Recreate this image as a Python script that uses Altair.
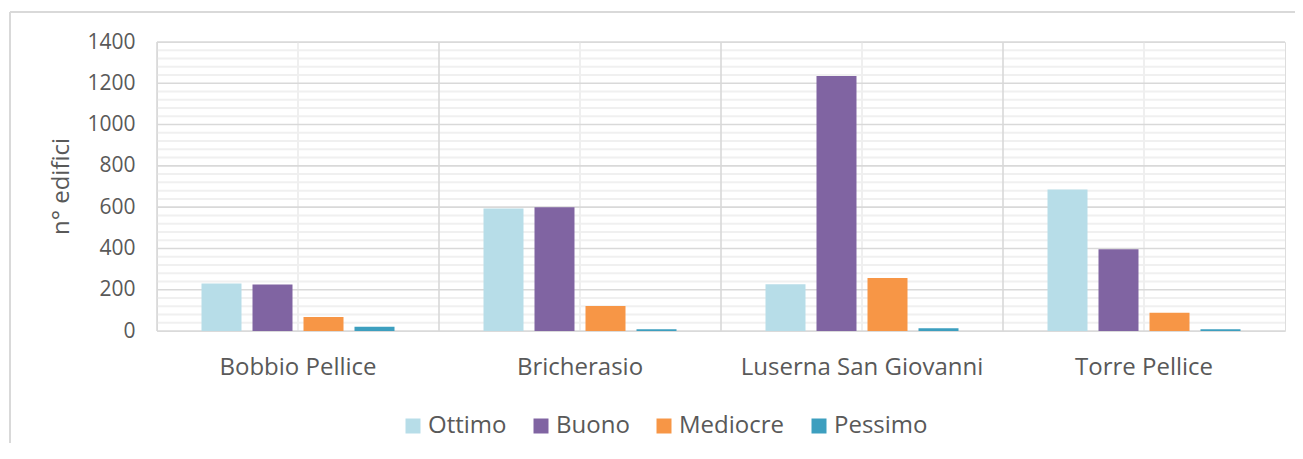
import altair as alt
import pandas as pd

cities = ["Bobbio Pellice", "Bricherasio", "Luserna San Giovanni", "Torre Pellice"]
conditions = ["Ottimo", "Buono", "Mediocre", "Pessimo"]
ottimo = [230, 594, 226, 686]
buono = [225, 599, 1235, 396]
mediocre = [68, 121, 257, 89]
pessimo = [20, 8, 13, 8]
colors = ["#b7dde8", "#8064a2", "#f79646", "#3d9fbf"]

major_ticks = [0, 200, 400, 600, 800, 1000, 1200, 1400]
minor_ticks = [v for v in range(0, 1401, 40) if v % 200 != 0]

rows = []
for name, series in zip(conditions, [ottimo, buono, mediocre, pessimo]):
    for c, v in zip(cities, series):
        rows.append({"city": c, "cond": name, "value": v})
bars_df = pd.DataFrame(rows)
city_df = pd.DataFrame({"city": cities})
major_df = pd.DataFrame({"v": major_ticks})
minor_df = pd.DataFrame({"v": minor_ticks})

TEXT = "#595959"
FONT = "Open Sans"

x_scale = alt.Scale(domain=cities, paddingInner=0, paddingOuter=0)
y_scale = alt.Scale(domain=[0, 1400], nice=False)

x_axis = alt.Axis(title=None, ticks=False, domain=False, grid=False,
                  labelFontSize=24, labelColor=TEXT, labelFont=FONT,
                  labelPadding=24, labelAngle=0, labelLimit=0)
y_axis = alt.Axis(title="n° edifici", values=major_ticks, grid=False, ticks=False,
                  domain=False, format="d", labelFontSize=21, labelColor=TEXT,
                  labelFont=FONT, labelPadding=22, titleFontSize=24, titleColor=TEXT,
                  titleFont=FONT, titleFontWeight="normal", titleAngle=270,
                  titleAlign="center", titleBaseline="middle", titleX=-96, titleY=144)

minor = alt.Chart(minor_df).mark_rule(color="#f0f0f0", strokeWidth=2).encode(
    y=alt.Y("v:Q", scale=y_scale, axis=y_axis)
)
centers = alt.Chart(city_df).mark_rule(color="#efefef", strokeWidth=2).encode(
    x=alt.X("city:N", scale=x_scale, axis=x_axis, bandPosition=0.5, sort=cities)
)
major = alt.Chart(major_df).mark_rule(color="#d9d9d9", strokeWidth=1.6).encode(
    y=alt.Y("v:Q", scale=y_scale, axis=y_axis)
)
bounds = alt.Chart(city_df).mark_rule(color="#d9d9d9", strokeWidth=1.6).encode(
    x=alt.X("city:N", scale=x_scale, axis=x_axis, bandPosition=0, sort=cities)
)
bars = alt.Chart(bars_df).mark_bar().encode(
    x=alt.X("city:N", scale=x_scale, axis=x_axis, sort=cities),
    xOffset=alt.XOffset("cond:N", sort=conditions,
                        scale=alt.Scale(paddingInner=0.2157, paddingOuter=0.8725)),
    y=alt.Y("value:Q", scale=y_scale, axis=y_axis),
    color=alt.Color("cond:N", sort=conditions,
                    scale=alt.Scale(domain=conditions, range=colors),
                    legend=alt.Legend(title=None, orient="none", direction="horizontal",
                                      legendX=244, legendY=372, symbolType="square",
                                      symbolSize=225, symbolStrokeWidth=0,
                                      labelFontSize=24, labelColor=TEXT, labelFont=FONT,
                                      labelOffset=3, columnPadding=22, padding=0)),
)

# outer chart frame (decoration)
frame_v = alt.Chart(city_df).mark_rule(color="#d9d9d9", strokeWidth=1.5).encode(
    x=alt.value(-147), y=alt.value(-30), y2=alt.value(420)
)
frame_h = alt.Chart(city_df).mark_rule(color="#d9d9d9", strokeWidth=1.5).encode(
    x=alt.value(-147), x2=alt.value(1140), y=alt.value(-30)
)

chart = alt.layer(frame_v, frame_h, minor, centers, major, bounds, bars).properties(
    width=1128, height=289,
    autosize=alt.AutoSizeParams(type="none"),
    padding={"left": 149, "top": 34, "right": 10, "bottom": 112},
).configure_view(stroke="#d9d9d9", strokeWidth=1.6).configure(background="white")

chart.save("out.html", embed_options={"renderer": "svg", "actions": False})
